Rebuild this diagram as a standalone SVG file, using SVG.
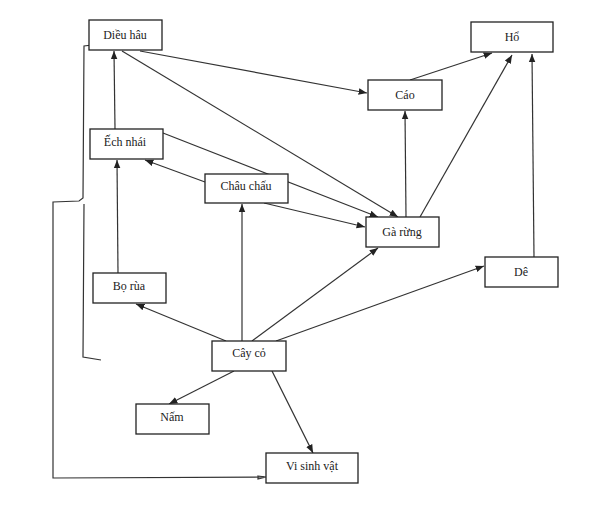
<svg xmlns="http://www.w3.org/2000/svg" width="600" height="521" viewBox="0 0 600 521">
<style>
rect{fill:#fff;stroke:#222;stroke-width:1.3}
text{font-family:"Liberation Serif",serif;font-size:12px;fill:#222;text-anchor:middle}
.c line,.c path{stroke:#333;stroke-width:1.2;fill:none}
.c line{marker-end:url(#a)}
</style>
<defs><marker id="a" viewBox="0 0 10 10" refX="10" refY="5" markerWidth="7" markerHeight="7" orient="auto"><path d="M0,1 L10,5 L0,9z" fill="#222"/></marker></defs>
<rect width="600" height="521" style="fill:#fff;stroke:none"/>
<g class="c">
<line x1="115" y1="129" x2="114" y2="51"/>
<line x1="140" y1="51" x2="367" y2="93"/>
<line x1="122" y1="51" x2="398" y2="217"/>
<line x1="163" y1="133" x2="378" y2="217"/>
<line x1="205" y1="182" x2="145" y2="160"/>
<line x1="264" y1="203" x2="365" y2="227"/>
<line x1="118" y1="273" x2="117" y2="160"/>
<line x1="226" y1="341" x2="136" y2="304"/>
<line x1="242" y1="341" x2="242" y2="204"/>
<line x1="252" y1="341" x2="378" y2="248"/>
<line x1="276" y1="341" x2="484" y2="266"/>
<line x1="234" y1="371" x2="169" y2="404"/>
<line x1="272" y1="371" x2="313" y2="453"/>
<line x1="406" y1="217" x2="405" y2="111"/>
<line x1="420" y1="217" x2="512" y2="55"/>
<line x1="410" y1="80" x2="492" y2="53"/>
<line x1="534" y1="257" x2="532" y2="54"/>
<path d="M101,44 L84,46 L83,198 L79,201 L53,202 L53,478 L264,477"/>
<path d="M84,204 L83,357 L101,360"/>
<path d="M258,476 L266,477 L258,479z" fill="#222"/>
</g>
<g id="dieuhau"><rect x="89" y="20" width="73" height="30"/><text x="125" y="39">Diều hâu</text></g>
<g id="ho"><rect x="471" y="22" width="82" height="30"/><text x="512" y="41">Hổ</text></g>
<g id="cao"><rect x="368" y="80" width="74" height="30"/><text x="405" y="99">Cáo</text></g>
<g id="echnhai"><rect x="90" y="129" width="73" height="30"/><text x="125" y="146">Ếch nhái</text></g>
<g id="chauchau"><rect x="205" y="174" width="83" height="29"/><text x="246" y="190">Châu chấu</text></g>
<g id="garung"><rect x="366" y="217" width="73" height="30"/><text x="402" y="236">Gà rừng</text></g>
<g id="de"><rect x="485" y="257" width="73" height="30"/><text x="521" y="276">Dê</text></g>
<g id="borua"><rect x="93" y="273" width="73" height="30"/><text x="129" y="290">Bọ rùa</text></g>
<g id="cayco"><rect x="212" y="341" width="74" height="30"/><text x="249" y="357">Cây cỏ</text></g>
<g id="nam"><rect x="136" y="404" width="73" height="30"/><text x="172" y="421">Nấm</text></g>
<g id="visinhvat"><rect x="266" y="453" width="92" height="30"/><text x="312" y="470">Vi sinh vật</text></g>
</svg>
